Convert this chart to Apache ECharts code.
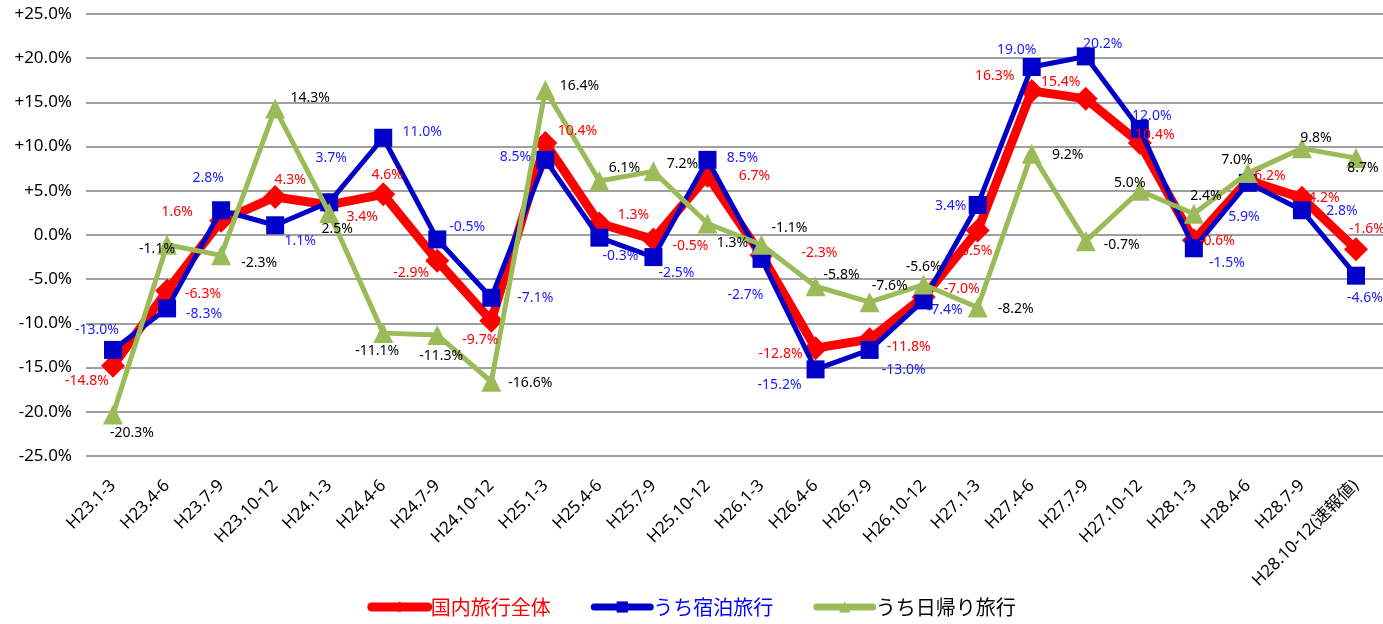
<!DOCTYPE html>
<html><head><meta charset="utf-8">
<script src="https://cdn.jsdelivr.net/npm/echarts@6/dist/echarts.min.js"></script>
<style>html,body{margin:0;padding:0;background:#fff}#c{width:1383px;height:624px}</style>
</head><body><div id="c"></div>
<script>
const categories = ['H23.1-3','H23.4-6','H23.7-9','H23.10-12','H24.1-3','H24.4-6','H24.7-9','H24.10-12','H25.1-3','H25.4-6','H25.7-9','H25.10-12','H26.1-3','H26.4-6','H26.7-9','H26.10-12','H27.1-3','H27.4-6','H27.7-9','H27.10-12','H28.1-3','H28.4-6','H28.7-9','H28.10-12(速報値)'];
const totalTravel = [-14.8,-6.3,1.6,4.3,3.4,4.6,-2.9,-9.7,10.4,1.3,-0.5,6.7,-2.3,-12.8,-11.8,-7.0,0.5,16.3,15.4,10.4,-0.6,6.2,4.2,-1.6];
const overnightTravel = [-13.0,-8.3,2.8,1.1,3.7,11.0,-0.5,-7.1,8.5,-0.3,-2.5,8.5,-2.7,-15.2,-13.0,-7.4,3.4,19.0,20.2,12.0,-1.5,5.9,2.8,-4.6];
const dayTrip = [-20.3,-1.1,-2.3,14.3,2.5,-11.1,-11.3,-16.6,16.4,6.1,7.2,1.3,-1.1,-5.8,-7.6,-5.6,-8.2,9.2,-0.7,5.0,2.4,7.0,9.8,8.7];
const yTicks = [-25,-20,-15,-10,-5,0,5,10,15,20,25];

// label offsets (layout only)
const redOff = [[-26,15],[36,3],[-44,-9],[15,-17],[33,12],[4,-19],[-26,12],[-11,19],[32,-12],[34,-8],[37,7],[47,0],[58,-2],[-35,6],[39,8],[38,-8],[-1,20],[-37,-15],[-25,-17],[15,-8],[23,1],[22,-4],[22,0],[11,-20]];
const blueOff = [[-16,-20],[37,6],[-13,-32],[25,16],[2,-44],[39,-6],[30,-12],[44,0],[-30,-3],[21,18],[23,16],[35,-2],[-16,36],[-36,16],[34,20],[21,10],[-27,1],[-15,-17],[17,-12],[12,-13],[33,15],[-4,34],[40,1],[9,22]];
const greenOff = [[19,19],[-10,4],[38,8],[35,-11],[8,16],[-6,18],[4,21],[39,1],[34,-4],[25,-13],[29,-7],[25,20],[28,-17],[26,-11],[20,-16],[0,-17],[38,2],[36,1],[36,4],[-10,-8],[12,-18],[-11,-13],[14,-10],[7,10]];

const FONT = '"Noto Sans", "Noto Sans CJK JP", sans-serif';
function pts(vals, offs){
  return vals.map((v,i)=>({value:v,label:{offset:offs[i]}}));
}
function fmt(p){ return p.value.toFixed(1)+'%'; }
function labelSeries(name, vals, offs, color){
  return {name:name+'_label',type:'line',data:pts(vals,offs),z:10,silent:true,
    symbol:'circle',symbolSize:1,showSymbol:true,
    lineStyle:{width:0,opacity:0},itemStyle:{color:'rgba(0,0,0,0)'},
    label:{show:true,position:'inside',formatter:fmt,color:color,fontSize:14,fontFamily:FONT}};
}

const chart = echarts.init(document.getElementById('c'));
chart.setOption({
  animation:false,
  grid:{left:86,right:0,top:14,bottom:168},
  legend:{
    bottom:2,left:'center',itemWidth:56,itemHeight:14,itemGap:40,
    textStyle:{fontSize:20,fontFamily:'"Noto Sans CJK JP", sans-serif',padding:[0,0,0,-2]},
    data:[
      {name:'国内旅行全体',textStyle:{color:'#FF0000'},lineStyle:{width:9,cap:'round'}},
      {name:'うち宿泊旅行',textStyle:{color:'#0000FF'},lineStyle:{width:7,cap:'round'}},
      {name:'うち日帰り旅行',textStyle:{color:'#000'},lineStyle:{width:7,cap:'round'}}
    ]
  },
  xAxis:{
    type:'category',data:categories,boundaryGap:true,
    axisLine:{show:false,onZero:false},axisTick:{show:false},
    axisLabel:{rotate:45,interval:0,fontSize:17,color:'#000',margin:27,fontFamily:FONT}
  },
  yAxis:{
    type:'value',min:yTicks[0],max:yTicks[yTicks.length-1],interval:5,
    axisLine:{show:false},axisTick:{show:false},
    axisLabel:{fontSize:17,color:'#000',margin:14,fontFamily:FONT,
      formatter:v=>(v>0?'+':'')+v.toFixed(1)+'%'},
    splitLine:{lineStyle:{color:'#A0A0A0',width:2}}
  },
  series:[
    {name:'国内旅行全体',type:'line',data:totalTravel,
      symbol:'diamond',symbolSize:24,z:2,
      lineStyle:{color:'#FF0000',width:9},itemStyle:{color:'#FF0000'}},
    {name:'うち宿泊旅行',type:'line',data:overnightTravel,
      symbol:'rect',symbolSize:18,z:3,
      lineStyle:{color:'#0000C8',width:5},itemStyle:{color:'#0000C8'}},
    {name:'うち日帰り旅行',type:'line',data:dayTrip,
      symbol:'triangle',symbolSize:20,z:4,
      lineStyle:{color:'#9BBB59',width:5},itemStyle:{color:'#9BBB59'}},
    labelSeries('国内旅行全体', totalTravel, redOff, '#FF0000'),
    labelSeries('うち宿泊旅行', overnightTravel, blueOff, '#1A1AFF'),
    labelSeries('うち日帰り旅行', dayTrip, greenOff, '#000')
  ]
});
</script></body></html>
